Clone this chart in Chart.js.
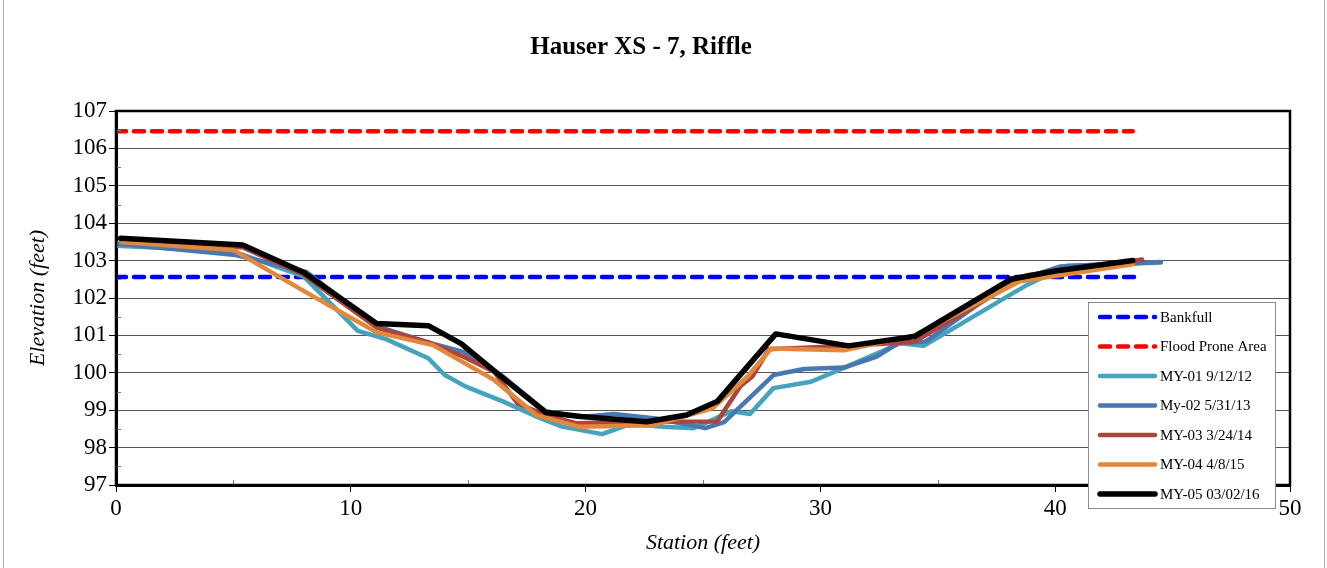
<!DOCTYPE html>
<html lang="en">
<head>
<meta charset="UTF-8">
<title>Hauser XS - 7, Riffle</title>
<script src="https://cdn.jsdelivr.net/npm/chart.js"></script>
<style>
  html, body { margin: 0; padding: 0; background: #fff; overflow: hidden; }
  #wrap { position: relative; width: 1327px; height: 568px; }
  #frame { position: absolute; left: 3px; top: -2px; width: 1320px; height: 572px;
           border-left: 1.5px solid #b4b4b4; border-right: 1.5px solid #b4b4b4; pointer-events: none; }
</style>
</head>
<body>
<div id="wrap">
  <canvas id="chart" width="1327" height="568"></canvas>
  <div id="frame"></div>
</div>
<script>
// station (ft), elevation (ft) pairs
const bankfull   = [[0, 102.56], [43.4, 102.56]];
const floodProne = [[0, 106.46], [43.3, 106.46]];

const my01 = [[0, 103.4], [5.0, 103.25], [8.0, 102.57], [10.3, 101.12], [11.5, 100.9], [13.3, 100.39],
  [14.0, 99.94], [14.9, 99.63], [16.5, 99.23], [17.9, 98.83], [19.0, 98.56], [20.7, 98.36],
  [21.9, 98.63], [23.3, 98.56], [24.6, 98.52], [25.4, 98.74], [26.2, 98.97], [27.0, 98.9],
  [28.0, 99.59], [29.6, 99.76], [31.1, 100.16], [33.4, 100.79], [34.4, 100.72], [38.8, 102.35],
  [40.5, 102.86], [44.5, 102.95]];

const my02 = [[0, 103.46], [5.1, 103.15], [8.1, 102.7], [11.1, 101.25], [13.4, 100.79], [14.8, 100.56],
  [16.4, 99.94], [18.3, 98.97], [19.8, 98.82], [21.2, 98.9], [23.0, 98.78], [25.1, 98.52],
  [25.9, 98.68], [28.0, 99.94], [29.3, 100.1], [31.0, 100.14], [32.4, 100.43], [33.3, 100.79],
  [34.5, 100.84], [38.0, 102.4], [40.2, 102.84], [44.5, 102.96]];

const my03 = [[0.2, 103.55], [5.4, 103.35], [8.0, 102.62], [11.1, 101.21], [13.4, 100.79], [14.8, 100.43],
  [16.1, 100.03], [17.1, 99.18], [18.3, 98.87], [19.6, 98.65], [22.6, 98.69], [25.6, 98.7],
  [26.6, 99.65], [27.1, 99.9], [27.8, 100.63], [31.3, 100.72], [34.0, 100.83], [38.8, 102.61],
  [43.7, 103.03]];

const my04 = [[0.2, 103.5], [5.0, 103.28], [8.1, 102.15], [11.1, 101.08], [13.5, 100.74], [16.1, 99.81],
  [17.9, 98.87], [19.7, 98.56], [22.9, 98.6], [25.4, 99.05], [26.9, 99.9], [27.9, 100.65],
  [31.0, 100.6], [34.0, 101.0], [38.5, 102.45], [43.3, 102.9]];

const my05 = [[0.2, 103.6], [5.4, 103.42], [8.0, 102.68], [11.1, 101.32], [13.3, 101.26], [14.7, 100.78],
  [16.3, 99.95], [18.3, 98.94], [19.8, 98.83], [22.6, 98.69], [24.3, 98.87], [25.6, 99.23],
  [28.1, 101.04], [31.2, 100.72], [34.0, 100.97], [38.1, 102.5], [40.0, 102.72], [43.3, 103.0]];

const seriesLabels = ['Bankfull', 'Flood Prone Area', 'MY-01 9/12/12', 'My-02 5/31/13',
  'MY-03 3/24/14', 'MY-04 4/8/15', 'MY-05 03/02/16'];

const xTicks = [0, 10, 20, 30, 40, 50];
const yTicks = [97, 98, 99, 100, 101, 102, 103, 104, 105, 106, 107];

const serif = '"Liberation Serif", "Times New Roman", serif';
const toXY = arr => arr.map(p => ({ x: p[0], y: p[1] }));

function line(label, data, color, width, order, dashed) {
  return {
    label: label,
    data: toXY(data),
    borderColor: color,
    backgroundColor: color,
    borderWidth: width,
    borderDash: dashed ? [10, 8] : [],
    borderCapStyle: 'round',
    borderJoinStyle: 'round',
    pointRadius: 0,
    tension: 0,
    fill: false,
    order: order
  };
}

// title, frame around the plot area, minor ticks, legend box
const decorPlugin = {
  id: 'decor',
  afterDraw(chart) {
    const c = chart.ctx;
    const a = chart.chartArea;
    const xs = chart.scales.x, ys = chart.scales.y;
    c.save();

    // minor ticks
    c.strokeStyle = '#777';
    c.lineWidth = 1;
    for (let v = 97.5; v < 107; v += 1) {
      const py = Math.round(ys.getPixelForValue(v)) + 0.5;
      c.beginPath(); c.moveTo(a.left, py); c.lineTo(a.left + 5, py); c.stroke();
    }
    for (let v = 5; v < 50; v += 10) {
      const px = Math.round(xs.getPixelForValue(v)) + 0.5;
      c.beginPath(); c.moveTo(px, a.bottom); c.lineTo(px, a.bottom - 5); c.stroke();
    }

    // plot frame
    c.strokeStyle = '#000';
    c.lineWidth = 2.5;
    c.strokeRect(a.left, a.top, a.right - a.left, a.bottom - a.top);

    // title
    c.fillStyle = '#000';
    c.font = 'bold 25px ' + serif;
    c.textAlign = 'center';
    c.textBaseline = 'middle';
    c.fillText('Hauser XS - 7, Riffle', 641, 48);

    // legend
    const bx = 1088, by = 302, bw = 187, bh = 206;
    c.fillStyle = '#fff';
    c.fillRect(bx, by, bw, bh);
    c.strokeStyle = '#8c8c8c';
    c.lineWidth = 1;
    c.strokeRect(bx + 0.5, by + 0.5, bw, bh);
    c.font = '15px ' + serif;
    c.textAlign = 'left';
    chart.data.datasets.forEach((ds, i) => {
      const ly = by + 15 + i * 29.5;
      c.strokeStyle = ds.borderColor;
      c.lineWidth = ds.borderWidth;
      c.lineCap = 'round';
      c.setLineDash(ds.borderDash);
      c.beginPath(); c.moveTo(bx + 12, ly); c.lineTo(bx + 67, ly); c.stroke();
      c.setLineDash([]);
      c.fillStyle = '#000';
      c.fillText(ds.label, bx + 72, ly + 1);
    });
    c.restore();
  }
};

new Chart(document.getElementById('chart'), {
  type: 'line',
  data: {
    datasets: [
      line(seriesLabels[0], bankfull, '#0000ff', 4.5, 5, true),
      line(seriesLabels[1], floodProne, '#ff0000', 4.5, 6, true),
      line(seriesLabels[2], my01, '#46a3bd', 4.5, 4, false),
      line(seriesLabels[3], my02, '#4a76b2', 4.5, 3, false),
      line(seriesLabels[4], my03, '#ad443e', 4.5, 2, false),
      line(seriesLabels[5], my04, '#e2883a', 4.5, 1, false),
      line(seriesLabels[6], my05, '#000000', 5.5, 0, false)
    ]
  },
  options: {
    responsive: false,
    animation: false,
    layout: { padding: { left: 0, top: 111, right: 37, bottom: 0 } },
    plugins: {
      legend: { display: false },
      title: { display: false },
      tooltip: { enabled: false }
    },
    scales: {
      x: {
        type: 'linear',
        min: 0,
        max: 50,
        afterBuildTicks: s => { s.ticks = xTicks.map(v => ({ value: v })); },
        afterFit: s => { s.height = 83; },
        grid: { drawOnChartArea: false, drawTicks: true, tickLength: 7, tickColor: '#000' },
        border: { display: true, color: '#000', width: 3 },
        ticks: { color: '#000', padding: 3, maxRotation: 0, font: { family: serif, size: 23 } },
        title: {
          display: true, text: 'Station (feet)', color: '#000',
          padding: { top: 0, bottom: 12 },
          font: { family: serif, size: 22, style: 'italic' }
        }
      },
      y: {
        min: 97,
        max: 107,
        afterBuildTicks: s => { s.ticks = yTicks.map(v => ({ value: v })); },
        afterFit: s => { s.width = 116; },
        grid: { color: '#555', lineWidth: 1, drawTicks: true, tickLength: 7, tickColor: '#000' },
        border: { display: true, color: '#000', width: 3 },
        ticks: { color: '#000', padding: 2, font: { family: serif, size: 23 } },
        title: {
          display: true, text: 'Elevation (feet)', color: '#000',
          padding: { top: 25, bottom: 0 },
          font: { family: serif, size: 22, style: 'italic' }
        }
      }
    }
  },
  plugins: [decorPlugin]
});
</script>
</body>
</html>
